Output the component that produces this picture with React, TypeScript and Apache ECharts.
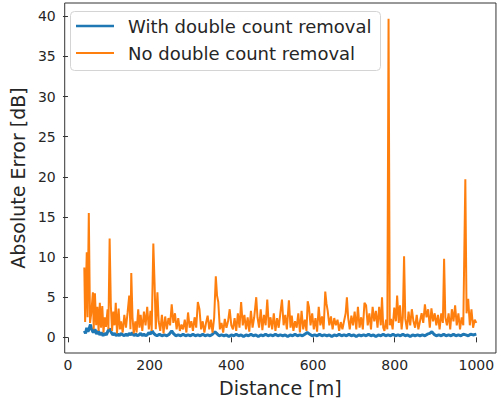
import React, { useEffect, useRef } from "react";
import * as echarts from "echarts";

const X_TICKS = [0, 200, 400, 600, 800, 1000];
const Y_TICKS = [0, 5, 10, 15, 20, 25, 30, 35, 40];
const SERIES_NAMES = ["With double count removal", "No double count removal"];

// [distance (m), absolute error (dB)]
const withRemoval: [number, number][] = [
  [40, 0.8], [43, 0.5], [46, 1.2], [49, 0.7], [52, 1.1], [55, 1.6], [58, 1.0], [62, 0.6], [66, 1.0],
  [70, 0.4], [74, 0.8], [78, 0.3], [82, 0.6], [86, 0.2], [90, 0.5], [94, 0.3], [98, 0.8], [102, 1.1],
  [106, 0.6], [110, 0.3], [114, 0.5], [118, 0.2], [122, 0.4], [126, 0.2], [130, 0.5], [134, 0.3],
  [138, 0.2], [142, 0.4], [146, 0.2], [150, 0.5], [154, 0.3], [158, 0.6], [162, 0.2], [166, 0.4],
  [170, 0.2], [174, 0.3], [178, 0.5], [182, 0.2], [186, 0.4], [190, 0.2], [194, 0.3], [198, 0.6],
  [202, 0.4], [206, 0.8], [210, 0.5], [214, 0.3], [218, 0.2], [224, 0.4], [230, 0.2], [236, 0.3],
  [242, 0.2], [248, 0.4], [254, 0.8], [258, 0.5], [264, 0.2], [270, 0.3], [276, 0.2], [282, 0.4],
  [288, 0.2], [294, 0.3], [300, 0.2], [306, 0.4], [312, 0.2], [318, 0.3], [324, 0.2], [330, 0.4],
  [336, 0.2], [342, 0.3], [348, 0.2], [354, 0.4], [360, 0.7], [364, 0.5], [370, 0.2], [376, 0.3],
  [382, 0.2], [388, 0.3], [394, 0.1], [400, 0.3], [406, 0.2], [412, 0.4], [418, 0.2], [424, 0.3],
  [430, 0.1], [436, 0.3], [442, 0.2], [448, 0.4], [454, 0.2], [460, 0.3], [466, 0.1], [472, 0.3],
  [478, 0.2], [484, 0.4], [490, 0.2], [496, 0.3], [502, 0.2], [508, 0.4], [514, 0.2], [520, 0.3],
  [526, 0.2], [532, 0.3], [538, 0.1], [544, 0.3], [550, 0.2], [556, 0.4], [562, 0.2], [568, 0.3],
  [574, 0.2], [580, 0.4], [586, 0.6], [592, 0.4], [598, 0.2], [604, 0.3], [610, 0.2], [616, 0.4],
  [622, 0.2], [628, 0.3], [634, 0.2], [640, 0.3], [646, 0.1], [652, 0.3], [658, 0.2], [664, 0.4],
  [670, 0.2], [676, 0.3], [682, 0.2], [688, 0.4], [694, 0.2], [700, 0.3], [706, 0.1], [712, 0.3],
  [718, 0.2], [724, 0.3], [730, 0.2], [736, 0.4], [742, 0.2], [748, 0.3], [754, 0.1], [760, 0.3],
  [766, 0.2], [772, 0.4], [778, 0.2], [784, 0.3], [790, 0.2], [796, 0.4], [802, 0.2], [808, 0.3],
  [814, 0.2], [820, 0.4], [826, 0.2], [832, 0.3], [838, 0.1], [844, 0.3], [850, 0.2], [856, 0.3],
  [862, 0.2], [868, 0.3], [874, 0.2], [880, 0.4], [886, 0.5], [891, 0.7], [896, 0.4], [902, 0.2],
  [908, 0.3], [914, 0.2], [920, 0.4], [926, 0.2], [932, 0.3], [938, 0.2], [944, 0.4], [950, 0.2],
  [956, 0.3], [962, 0.2], [968, 0.4], [974, 0.3], [980, 0.2], [986, 0.4], [992, 0.3], [1000, 0.4],
];

const noRemoval: [number, number][] = [
  [40, 8.7], [42, 1.9], [46, 10.6], [48, 2.5], [51, 15.5], [54, 1.8], [57, 3.0], [61, 5.6], [63, 1.0],
  [66, 5.5], [69, 1.5], [72, 3.8], [75, 0.8], [78, 4.3], [81, 1.2], [84, 3.9], [87, 0.6], [90, 2.5],
  [93, 1.3], [97, 3.5], [99, 1.0], [102, 12.3], [105, 3.9], [108, 0.8], [111, 3.2], [114, 1.5],
  [117, 4.3], [120, 0.5], [124, 3.6], [127, 1.0], [130, 2.0], [134, 0.6], [138, 2.8], [142, 1.2],
  [146, 3.1], [150, 5.2], [153, 1.0], [155, 8.0], [158, 2.5], [161, 0.5], [165, 2.0], [168, 0.6],
  [172, 3.5], [175, 1.2], [178, 2.8], [182, 0.8], [186, 3.2], [190, 1.5], [194, 3.8], [198, 1.0],
  [202, 3.3], [205, 0.8], [209, 11.7], [212, 6.8], [215, 1.0], [219, 5.6], [222, 2.0], [226, 0.8],
  [230, 2.8], [234, 0.5], [238, 2.6], [242, 1.0], [246, 2.4], [250, 1.5], [254, 4.1], [258, 1.8],
  [262, 3.0], [266, 1.0], [270, 2.4], [274, 0.8], [278, 1.6], [282, 1.0], [286, 2.2], [290, 0.6],
  [294, 3.1], [298, 1.2], [302, 2.0], [306, 0.8], [310, 2.5], [314, 1.2], [318, 4.4], [322, 3.5],
  [326, 1.0], [330, 2.0], [334, 0.6], [338, 1.8], [342, 2.7], [346, 1.0], [350, 2.2], [354, 0.6],
  [358, 2.5], [362, 7.6], [365, 5.2], [368, 4.4], [372, 1.0], [376, 1.8], [380, 0.6], [384, 2.3],
  [388, 1.2], [392, 2.0], [396, 3.5], [400, 1.5], [404, 1.0], [408, 2.4], [412, 0.8], [416, 3.0],
  [420, 1.2], [424, 4.4], [428, 1.5], [432, 2.8], [436, 1.0], [440, 2.5], [444, 0.7], [448, 3.3],
  [452, 1.2], [456, 2.5], [461, 5.0], [464, 2.5], [468, 1.2], [472, 3.5], [476, 0.9], [480, 2.8],
  [484, 1.5], [488, 4.7], [492, 1.2], [496, 2.5], [500, 1.0], [504, 3.0], [508, 0.8], [512, 2.4],
  [516, 1.2], [520, 3.0], [524, 4.7], [528, 1.5], [532, 2.8], [536, 1.0], [541, 4.6], [545, 1.2],
  [548, 2.7], [552, 0.8], [556, 2.0], [560, 1.2], [564, 3.0], [568, 0.6], [572, 3.3], [576, 1.0],
  [580, 2.2], [584, 0.8], [587, 4.5], [590, 3.8], [594, 1.5], [598, 3.0], [602, 1.0], [606, 2.4],
  [610, 0.7], [614, 3.8], [618, 1.5], [622, 2.6], [626, 1.0], [630, 5.7], [633, 4.2], [636, 3.3],
  [640, 1.5], [644, 2.6], [648, 1.0], [652, 2.4], [656, 1.5], [660, 2.2], [664, 0.8], [668, 1.9],
  [672, 1.0], [676, 2.0], [680, 3.0], [683, 5.0], [686, 2.5], [690, 1.0], [694, 2.7], [698, 1.5],
  [702, 3.2], [706, 1.0], [710, 3.8], [714, 1.2], [718, 2.5], [722, 1.0], [726, 4.3], [730, 4.0],
  [734, 1.5], [738, 3.0], [742, 1.0], [746, 3.8], [750, 2.0], [754, 3.3], [758, 1.2], [762, 3.8],
  [766, 1.5], [769, 5.0], [772, 1.2], [775, 0.8], [779, 2.2], [782, 1.0], [785, 39.7], [788, 1.5],
  [791, 2.3], [795, 1.0], [799, 3.7], [803, 2.0], [806, 5.2], [810, 1.8], [813, 4.0], [817, 1.0],
  [820, 2.5], [823, 10.1], [826, 2.3], [830, 1.0], [834, 3.2], [838, 1.5], [842, 3.5], [846, 2.0],
  [850, 1.2], [854, 2.8], [858, 1.0], [862, 2.0], [866, 3.0], [870, 1.8], [874, 4.1], [878, 2.5],
  [882, 3.5], [886, 1.2], [890, 3.6], [894, 2.0], [898, 3.0], [902, 1.5], [906, 2.8], [910, 1.0],
  [914, 3.0], [918, 1.8], [921, 9.8], [924, 2.5], [928, 1.5], [932, 3.0], [936, 1.0], [940, 3.5],
  [944, 2.0], [948, 4.0], [952, 1.5], [956, 3.0], [960, 1.0], [964, 2.5], [968, 1.5], [973, 19.7],
  [976, 3.0], [980, 4.8], [984, 1.5], [988, 3.5], [992, 1.2], [996, 2.2], [1000, 1.8],
];

const BLUE = "#1f77b4";
const ORANGE = "#ff7f0e";
const FONT = "DejaVu Sans";
const TEXT = "#262626";

export default function App() {
  const ref = useRef<HTMLDivElement>(null);
  useEffect(() => {
    if (!ref.current) return;
    const chart = echarts.init(ref.current, null, { renderer: "svg" });
    chart.setOption({
      animation: false,
      grid: {
        left: 61,
        top: 3,
        width: 437,
        height: 351,
        show: true,
        borderColor: "#333",
        borderWidth: 1,
        backgroundColor: "transparent",
      },
      xAxis: {
        type: "value",
        min: -8,
        max: 1048,
        name: "Distance [m]",
        nameLocation: "middle",
        nameGap: 25,
        nameTextStyle: { fontFamily: FONT, fontSize: 19, color: TEXT },
        axisLine: { show: false },
        splitLine: { show: false },
        axisTick: {
          show: true,
          length: 5,
          customValues: X_TICKS,
          lineStyle: { color: "#333" },
        },
        axisLabel: {
          customValues: X_TICKS,
          formatter: (v: number) => String(v),
          fontFamily: FONT,
          fontSize: 14,
          color: TEXT,
          margin: 5,
        },
      },
      yAxis: {
        type: "value",
        min: -1.95,
        max: 41.65,
        name: "Absolute Error [dB]",
        nameLocation: "middle",
        nameGap: 33,
        nameTextStyle: { fontFamily: FONT, fontSize: 19, color: TEXT },
        axisLine: { show: false },
        splitLine: { show: false },
        axisTick: {
          show: true,
          length: 5,
          customValues: Y_TICKS,
          lineStyle: { color: "#333" },
        },
        axisLabel: {
          customValues: Y_TICKS,
          formatter: (v: number) => String(v),
          fontFamily: FONT,
          fontSize: 14,
          color: TEXT,
          margin: 9,
        },
      },
      series: [
        {
          name: SERIES_NAMES[0],
          type: "line",
          data: withRemoval,
          symbol: "none",
          lineStyle: { color: BLUE, width: 3 },
          z: 2,
        },
        {
          name: SERIES_NAMES[1],
          type: "line",
          data: noRemoval,
          symbol: "none",
          lineStyle: { color: ORANGE, width: 2 },
          z: 3,
        },
      ],
      graphic: [
        {
          type: "group",
          z: 100,
          children: [
            {
              type: "rect",
              shape: { x: 70.5, y: 11.5, width: 310, height: 59, r: 4 },
              style: { fill: "rgba(255,255,255,0.85)", stroke: "#d4d4d4", lineWidth: 1 },
            },
            {
              type: "line",
              shape: { x1: 76, y1: 26, x2: 114, y2: 26 },
              style: { stroke: BLUE, lineWidth: 2.5 },
            },
            {
              type: "line",
              shape: { x1: 76, y1: 53, x2: 114, y2: 53 },
              style: { stroke: ORANGE, lineWidth: 2 },
            },
            {
              type: "text",
              x: 128,
              y: 26,
              style: {
                text: SERIES_NAMES[0],
                font: `18px "${FONT}"`,
                fill: TEXT,
                verticalAlign: "middle",
              },
            },
            {
              type: "text",
              x: 128,
              y: 53,
              style: {
                text: SERIES_NAMES[1],
                font: `18px "${FONT}"`,
                fill: TEXT,
                verticalAlign: "middle",
              },
            },
          ],
        },
      ],
    });
    return () => chart.dispose();
  }, []);
  return (
    <div
      ref={ref}
      style={{ position: "absolute", left: 0, top: 0, width: 497, height: 402 }}
    />
  );
}
